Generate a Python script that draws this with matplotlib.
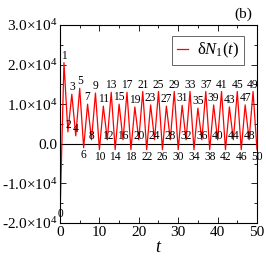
import numpy as np
import matplotlib
matplotlib.use("Agg")
import matplotlib.pyplot as plt
from matplotlib.ticker import MultipleLocator, FixedLocator

plt.rcParams['font.family'] = ['Liberation Serif', 'DejaVu Serif']
plt.rcParams['mathtext.fontset'] = 'custom'
plt.rcParams['mathtext.rm'] = 'Liberation Serif'
plt.rcParams['mathtext.it'] = 'Liberation Serif:italic'

# time steps and delta N_1 values (x1e4)
t = np.arange(0, 51)
dN1 = [-1.85, 2.05, 0.30, 1.25, 0.20, 1.40, -0.10, 1.00, 0.10, 1.28,
       -0.15, 0.95, 0.10, 1.30, -0.15, 1.00, 0.10, 1.30, -0.15, 0.93,
       0.10, 1.32, -0.15, 0.98, 0.10, 1.32, -0.15, 0.95, 0.10, 1.32,
       -0.15, 0.97, 0.10, 1.32, -0.15, 0.90, 0.10, 1.32, -0.15, 0.98,
       0.10, 1.32, -0.15, 0.93, 0.10, 1.32, -0.15, 0.98, 0.10, 1.32,
       -0.15]
ytick_vals = [-2e4, -1e4, 0, 1e4, 2e4, 3e4]
ytick_labels = [r'-2.0$\times$10$^{4}$', r'-1.0$\times$10$^{4}$', '0.0',
                r'1.0$\times$10$^{4}$', r'2.0$\times$10$^{4}$', r'3.0$\times$10$^{4}$']

y = np.array(dN1) * 1e4

fig = plt.figure(figsize=(2.66, 2.66), dpi=100)
ax = fig.add_axes([0.2256, 0.162, 0.7405, 0.744])
ax.axhline(0, color='black', lw=0.8, zorder=1)
ax.plot(t, y, color='red', lw=0.9, label=r'δ$N_1(t)$', zorder=2)

for ti, yi in zip(t, y):
    if ti % 2 == 1 or ti in (2, 4):
        off = 5
    elif ti == 0:
        off = 2
    elif ti % 4 == 0:
        off = 3
    else:
        off = -5
    ax.annotate(str(ti), (ti, yi), xytext=(0, off), textcoords='offset points',
                ha='center', va='center', fontsize=8.3, zorder=3)

ax.set_xlim(0, 50)
ax.set_ylim(-2e4, 3e4)
ax.xaxis.set_major_locator(MultipleLocator(10))
ax.xaxis.set_minor_locator(MultipleLocator(5))
ax.yaxis.set_major_locator(FixedLocator(ytick_vals))
ax.set_yticklabels(ytick_labels)
ax.yaxis.set_minor_locator(MultipleLocator(5e3))
ax.tick_params(which='both', direction='in', top=True, right=True, labelsize=11, width=0.6, pad=2)
ax.tick_params(which='major', length=4)
ax.tick_params(which='minor', length=2)
for s in ax.spines.values():
    s.set_linewidth(0.8)
ax.set_xlabel(r'$t$', fontsize=13, labelpad=0)

leg = ax.legend(loc='upper right', bbox_to_anchor=(0.934, 0.944), borderaxespad=0,
                fontsize=12, fancybox=False, handlelength=0.7, handletextpad=0.5,
                borderpad=0.3, framealpha=1)
leg.get_frame().set_edgecolor('0.3')
leg.get_frame().set_linewidth(0.6)

fig.text(0.915, 0.945, '(b)', fontsize=11, ha='center', va='center')

fig.savefig('out.png', dpi=100)
